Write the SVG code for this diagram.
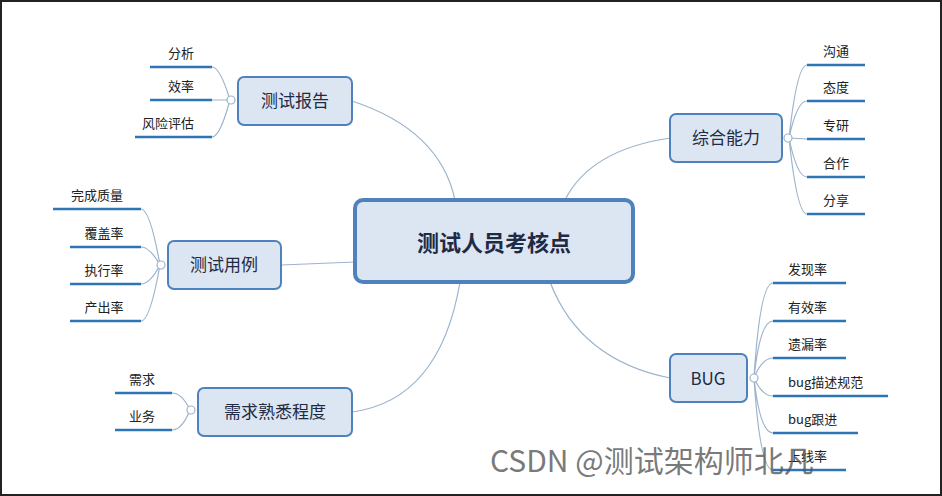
<svg xmlns="http://www.w3.org/2000/svg" width="942" height="496" viewBox="0 0 942 496">
<style>
.n rect{fill:#dce6f2;stroke:#4f81bd;stroke-width:2}
.t{font-family:"Noto Sans CJK SC","Liberation Sans",sans-serif;fill:#1f2a44;text-anchor:middle}
.l{font-size:13px;fill:#222}
.s{text-anchor:start}
.u{stroke:#2e75b6;stroke-width:2.5}
.c{fill:none;stroke:#9bb3cc;stroke-width:1.2}
.d{fill:#fff;stroke:#9bb3cc;stroke-width:1.2}
</style>
<rect x="0" y="0" width="942" height="496" fill="#fff"/>
<rect x="1" y="1" width="940" height="494" fill="none" stroke="#222" stroke-width="2"/>
<g id="connectors">
<path class="c" d="M352,101 Q440,130 455,200"/>
<path class="c" d="M281,265 L355,262"/>
<path class="c" d="M352,412 Q440,400 460,282"/>
<path class="c" d="M670,138 Q590,150 565,200"/>
<path class="c" d="M670,378 Q580,360 550,282"/>
<path class="c" d="M230,100 Q220,67 212,67 M230,100 L212,100 M230,100 Q220,137 212,137"/>
<circle class="d" cx="231" cy="100" r="4"/>
<path class="c" d="M160,265 Q150,209 141,209 M160,265 Q150,247 141,247 M160,265 Q150,284 141,284 M160,265 Q150,321 141,321"/>
<circle class="d" cx="161" cy="265" r="4"/>
<path class="c" d="M190,410 Q182,393 172,393 M190,410 Q182,430 172,430"/>
<circle class="d" cx="191" cy="410" r="4"/>
<path class="c" d="M789,138 Q797,65 807,65 M789,138 Q797,101 807,101 M789,138 L807,139 M789,138 Q797,177 807,177 M789,138 Q797,214 807,214"/>
<circle class="d" cx="788" cy="138" r="4"/>
<path class="c" d="M754,378 Q760,283 773,283 M754,378 Q760,321 773,321 M754,378 Q762,358 773,358 M754,378 Q762,396 773,396 M754,378 Q760,433 773,433 M754,378 Q760,470 773,470"/>
<circle class="d" cx="754" cy="378" r="4"/>
<g>
<line class="u" x1="150" y1="67" x2="212" y2="67"/><line class="u" x1="150" y1="100" x2="212" y2="100"/><line class="u" x1="135" y1="137" x2="212" y2="137"/>
<line class="u" x1="53" y1="209" x2="141" y2="209"/><line class="u" x1="70" y1="247" x2="141" y2="247"/><line class="u" x1="70" y1="284" x2="141" y2="284"/><line class="u" x1="70" y1="321" x2="141" y2="321"/>
<line class="u" x1="115" y1="393" x2="172" y2="393"/><line class="u" x1="115" y1="430" x2="172" y2="430"/>
<line class="u" x1="807" y1="65" x2="865" y2="65"/><line class="u" x1="807" y1="101" x2="865" y2="101"/><line class="u" x1="807" y1="139" x2="865" y2="139"/><line class="u" x1="807" y1="177" x2="865" y2="177"/><line class="u" x1="807" y1="214" x2="865" y2="214"/>
<line class="u" x1="773" y1="283" x2="846" y2="283"/><line class="u" x1="773" y1="321" x2="846" y2="321"/><line class="u" x1="773" y1="358" x2="846" y2="358"/><line class="u" x1="773" y1="396" x2="888" y2="396"/><line class="u" x1="773" y1="433" x2="858" y2="433"/><line class="u" x1="773" y1="470" x2="846" y2="470"/>
</g>
</g>
<g id="center" class="n"><rect x="355" y="200" width="278" height="82" rx="8" style="stroke-width:4"/><text class="t" x="494" y="251" font-size="22" font-weight="bold">测试人员考核点</text></g>
<g id="report" class="n"><rect x="238" y="77" width="114" height="48" rx="6"/><text class="t" x="295" y="107" font-size="17">测试报告</text></g>
<g id="case" class="n"><rect x="168" y="241" width="113" height="48" rx="6"/><text class="t" x="224" y="271" font-size="17">测试用例</text></g>
<g id="req" class="n"><rect x="198" y="388" width="154" height="48" rx="6"/><text class="t" x="275" y="418" font-size="17">需求熟悉程度</text></g>
<g id="ability" class="n"><rect x="670" y="114" width="112" height="48" rx="6"/><text class="t" x="726" y="144" font-size="17">综合能力</text></g>
<g id="bug" class="n"><rect x="670" y="354" width="77" height="48" rx="6"/><text class="t" x="708" y="385" font-size="17">BUG</text></g>
<g id="leaves" class="t l">
<text x="181" y="58">分析</text><text x="181" y="91">效率</text><text x="168" y="128">风险评估</text>
<text x="97" y="200">完成质量</text><text x="104" y="238">覆盖率</text><text x="104" y="275">执行率</text><text x="104" y="312">产出率</text>
<text x="142" y="384">需求</text><text x="142" y="421">业务</text>
<text x="836" y="56">沟通</text><text x="836" y="92">态度</text><text x="836" y="130">专研</text><text x="836" y="168">合作</text><text x="836" y="205">分享</text>
<text class="s" x="788" y="274">发现率</text><text class="s" x="788" y="312">有效率</text><text class="s" x="788" y="349">遗漏率</text><text class="s" x="788" y="387">bug描述规范</text><text class="s" x="788" y="424">bug跟进</text><text class="s" x="788" y="461">上线率</text>
</g>
<text x="490" y="472" font-family="Noto Sans CJK SC,sans-serif" font-size="30" fill="#555" fill-opacity="0.8">CSDN @测试架构师北凡</text>
</svg>
